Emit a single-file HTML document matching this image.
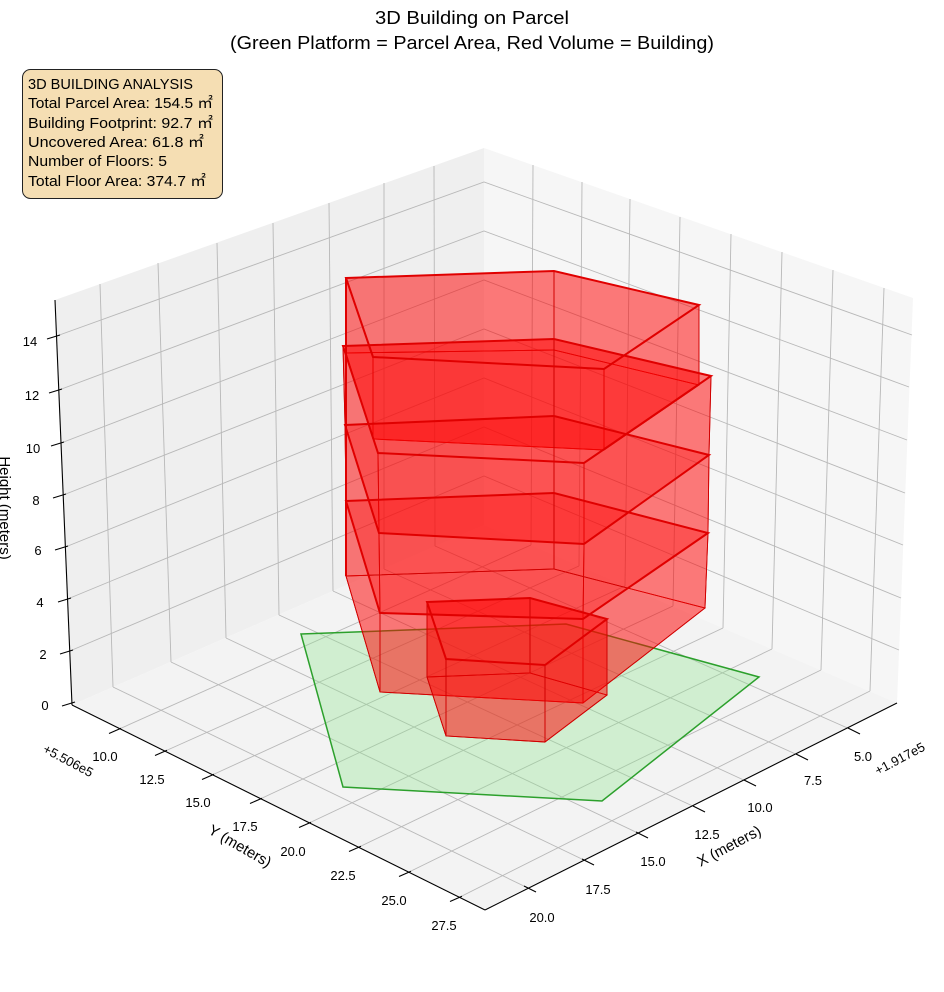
<!DOCTYPE html>
<html><head><meta charset="utf-8"><style>
html,body{margin:0;padding:0;background:#fff;}
svg{display:block;font-family:"Liberation Sans","Noto Sans CJK JP",sans-serif;}
</style></head><body>
<svg width="944" height="992" viewBox="0 0 944 992" xmlns="http://www.w3.org/2000/svg">
<rect width="944" height="992" fill="#fff"/>
<!-- title -->
<text x="472" y="24" font-size="18" text-anchor="middle" textLength="194" lengthAdjust="spacingAndGlyphs" fill="#000">3D Building on Parcel</text>
<text x="472" y="49" font-size="18" text-anchor="middle" textLength="484" lengthAdjust="spacingAndGlyphs" fill="#000">(Green Platform = Parcel Area, Red Volume = Building)</text>

<!-- panes -->
<polygon points="55,300 484,148 484,525 72,705" fill="#efefef"/>
<polygon points="913,298 484,148 484,525 897,703" fill="#f6f6f6"/>
<polygon points="72,705 484,525 897,703 485,910" fill="#f3f3f3"/>

<g stroke="#b8b8b8" stroke-width="0.9" fill="none">
<!-- left pane verticals -->
<line x1="100" y1="284" x2="113" y2="687"/>
<line x1="158" y1="263" x2="171" y2="662"/>
<line x1="217" y1="243" x2="226" y2="638"/>
<line x1="273" y1="223" x2="279" y2="615"/>
<line x1="329" y1="203" x2="333" y2="591"/>
<line x1="384" y1="183" x2="384" y2="569"/>
<line x1="434" y1="166" x2="435" y2="546"/>
<!-- right pane verticals -->
<line x1="533" y1="165" x2="531" y2="545"/>
<line x1="582" y1="182" x2="579" y2="566"/>
<line x1="630" y1="199" x2="625" y2="586"/>
<line x1="680" y1="217" x2="673" y2="606"/>
<line x1="731" y1="234" x2="723" y2="628"/>
<line x1="782" y1="252" x2="772" y2="649"/>
<line x1="833" y1="270" x2="821" y2="670"/>
<line x1="884" y1="288" x2="870" y2="691"/>
<!-- z lines -->
<polyline points="69.8,651 484,476 899,650"/>
<polyline points="67.6,599 484,427 901,598"/>
<polyline points="65.4,547 484,378 903,545"/>
<polyline points="63.3,495 484,329 905,493"/>
<polyline points="61.1,443 484,280 907,440"/>
<polyline points="58.9,390 484,231 909,387"/>
<polyline points="56.6,336 484,182 912,335"/>
<!-- floor x lines -->
<line x1="113" y1="687" x2="528" y2="888"/>
<line x1="171" y1="662" x2="586" y2="861"/>
<line x1="226" y1="638" x2="640" y2="834"/>
<line x1="279" y1="615" x2="697" y2="808"/>
<line x1="333" y1="591" x2="748" y2="782"/>
<line x1="384" y1="569" x2="800" y2="756"/>
<line x1="435" y1="546" x2="852" y2="730"/>
<!-- floor y lines -->
<line x1="531" y1="545" x2="117" y2="730"/>
<line x1="579" y1="566" x2="163" y2="752"/>
<line x1="625" y1="586" x2="210" y2="776"/>
<line x1="673" y1="606" x2="258" y2="800"/>
<line x1="723" y1="628" x2="307" y2="824"/>
<line x1="772" y1="649" x2="357" y2="848"/>
<line x1="821" y1="670" x2="407" y2="873"/>
<line x1="870" y1="691" x2="458" y2="898"/>
</g>

<!-- axes -->
<g stroke="#000" stroke-width="1.1" fill="none">
<line x1="55" y1="300" x2="72" y2="705"/>
<line x1="72" y1="705" x2="485" y2="910"/>
<line x1="485" y1="910" x2="897" y2="703"/>
<!-- z ticks -->
<line x1="62" y1="706" x2="75" y2="702"/>
<line x1="60" y1="654" x2="73" y2="650"/>
<line x1="58" y1="602" x2="71" y2="598"/>
<line x1="55" y1="550" x2="68" y2="546"/>
<line x1="53" y1="498" x2="66" y2="494"/>
<line x1="51" y1="446" x2="64" y2="442"/>
<line x1="49" y1="393" x2="62" y2="389"/>
<line x1="47" y1="339" x2="60" y2="335"/>
<!-- y ticks -->
<line x1="109" y1="733.5" x2="121" y2="728.3"/>
<line x1="155" y1="755.5" x2="167" y2="750.3"/>
<line x1="202" y1="779.5" x2="214" y2="774.3"/>
<line x1="250" y1="803.5" x2="262" y2="798.3"/>
<line x1="299" y1="827.5" x2="311" y2="822.3"/>
<line x1="349" y1="851.5" x2="361" y2="846.3"/>
<line x1="399" y1="876.5" x2="411" y2="871.3"/>
<line x1="450" y1="901.5" x2="462" y2="896.3"/>
<!-- x ticks -->
<line x1="524" y1="886" x2="536" y2="892"/>
<line x1="582" y1="859" x2="594" y2="865"/>
<line x1="636" y1="832" x2="648" y2="838"/>
<line x1="693" y1="806" x2="705" y2="812"/>
<line x1="744" y1="780" x2="756" y2="786"/>
<line x1="796" y1="754" x2="808" y2="760"/>
<line x1="848" y1="728" x2="860" y2="734"/>
</g>

<!-- tick labels -->
<g font-size="13" fill="#000" text-anchor="middle">
<text x="45" y="710">0</text>
<text x="43" y="659">2</text>
<text x="40" y="607">4</text>
<text x="38" y="555">6</text>
<text x="36" y="505">8</text>
<text x="33" y="453">10</text>
<text x="32" y="400">12</text>
<text x="30" y="346">14</text>

<text x="105" y="761">10.0</text>
<text x="152" y="784">12.5</text>
<text x="198" y="807">15.0</text>
<text x="245" y="831">17.5</text>
<text x="293" y="856">20.0</text>
<text x="343" y="880">22.5</text>
<text x="394" y="905">25.0</text>
<text x="444" y="930">27.5</text>

<text x="542" y="922">20.0</text>
<text x="598" y="894">17.5</text>
<text x="653" y="866">15.0</text>
<text x="707" y="839">12.5</text>
<text x="760" y="812">10.0</text>
<text x="813" y="785">7.5</text>
<text x="863" y="761">5.0</text>
<text transform="translate(68,761) rotate(28)" y="4">+5.506e5</text>
<text transform="translate(900,759) rotate(-28)" y="4">+1.917e5</text>
</g>
<g font-size="15" fill="#000" text-anchor="middle">
<text transform="translate(240,846) rotate(30)" y="5">Y (meters)</text>
<text transform="translate(729,846) rotate(-28)" y="5">X (meters)</text>
<text transform="translate(5,508) rotate(90)" y="5">Height (meters)</text>
</g>

<!-- green parcel -->
<polygon points="301,634 566,624 759,677 602,801 343,787" fill="rgba(144,228,144,0.35)" stroke="#2ca02c" stroke-width="1.5"/>

<!-- building faces -->
<g fill="rgba(255,0,0,0.3)" stroke="#d00000" stroke-width="0.9">
<!-- tier 5 -->
<polygon points="346,278 554,271 699,305 604,369 373,357"/>
<polygon points="346,353 554,350 699,385 604,450 373,439"/>
<polygon points="346,278 554,271 554,350 346,353"/>
<polygon points="554,271 699,305 699,385 554,350"/>
<polygon points="699,305 604,369 604,450 699,385"/>
<polygon points="604,369 373,357 373,439 604,450"/>
<polygon points="373,357 346,278 346,353 373,439"/>
<!-- tier 4 -->
<polygon points="343,346 554,339 711,376 584,463 378,453"/>
<polygon points="345,425 554,416 709,455 584,544 379,533"/>
<polygon points="343,346 554,339 554,416 345,425"/>
<polygon points="554,339 711,376 709,455 554,416"/>
<polygon points="711,376 584,463 584,544 709,455"/>
<polygon points="584,463 378,453 379,533 584,544"/>
<polygon points="378,453 343,346 345,425 379,533"/>
<!-- tier 3 -->
<polygon points="346,501 554,493 708,533 583,619 380,613"/>
<polygon points="345,425 554,416 554,493 346,501"/>
<polygon points="554,416 709,455 708,533 554,493"/>
<polygon points="709,455 584,544 583,619 708,533"/>
<polygon points="584,544 379,533 380,613 583,619"/>
<polygon points="379,533 345,425 346,501 380,613"/>
<!-- tier 2 -->
<polygon points="346,576 554,569 705,608 583,703 380,692"/>
<polygon points="346,501 554,493 554,569 346,576"/>
<polygon points="554,493 708,533 705,608 554,569"/>
<polygon points="708,533 583,619 583,703 705,608"/>
<polygon points="583,619 380,613 380,692 583,703"/>
<polygon points="380,613 346,501 346,576 380,692"/>
<!-- small prism -->
<polygon points="427,602 530,598 607,619 545,665 446,659"/>
<polygon points="427,677 530,673 607,695 545,742 446,736"/>
<polygon points="427,602 530,598 530,673 427,677"/>
<polygon points="530,598 607,619 607,695 530,673"/>
<polygon points="607,619 545,665 545,742 607,695"/>
<polygon points="545,665 446,659 446,736 545,742"/>
<polygon points="446,659 427,602 427,677 446,736"/>
</g>
<!-- thick top outlines -->
<g fill="none" stroke="#e00000" stroke-width="2">
<polygon points="346,278 554,271 699,305 604,369 373,357"/>
<polygon points="343,346 554,339 711,376 584,463 378,453"/>
<polygon points="345,425 554,416 709,455 584,544 379,533"/>
<polygon points="346,501 554,493 708,533 583,619 380,613"/>
<polygon points="427,602 530,598 607,619 545,665 446,659"/>
<line x1="346" y1="278" x2="346" y2="576"/>
</g>

<!-- info box -->
<rect x="22.5" y="69.5" width="200" height="129" rx="8" ry="8" fill="#f5deb3" stroke="#222" stroke-width="1"/>
<g font-size="14.5" fill="#000">
<text x="28" y="89" textLength="165" lengthAdjust="spacingAndGlyphs">3D BUILDING ANALYSIS</text>
<text x="28" y="108" textLength="185" lengthAdjust="spacingAndGlyphs">Total Parcel Area: 154.5 ㎡</text>
<text x="28" y="128" textLength="185" lengthAdjust="spacingAndGlyphs">Building Footprint: 92.7 ㎡</text>
<text x="28" y="147" textLength="176" lengthAdjust="spacingAndGlyphs">Uncovered Area: 61.8 ㎡</text>
<text x="28" y="166" textLength="139" lengthAdjust="spacingAndGlyphs">Number of Floors: 5</text>
<text x="28" y="186" textLength="178" lengthAdjust="spacingAndGlyphs">Total Floor Area: 374.7 ㎡</text>
</g>
</svg>
</body></html>
